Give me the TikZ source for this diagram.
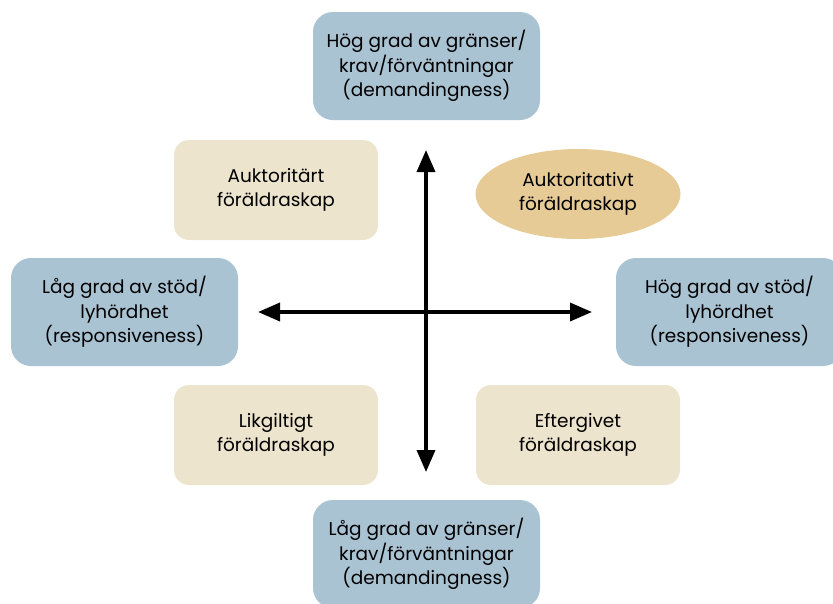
\documentclass[tikz,border=0pt]{standalone}
\usepackage{fontspec}
\setmainfont{Poppins}
\usepackage{xcolor}
\usetikzlibrary{shapes.geometric, arrows.meta, positioning}
\definecolor{axisblue}{HTML}{A9C3D3}
\definecolor{stylebeige}{HTML}{ECE4CC}
\definecolor{stylegold}{HTML}{E6CB96}

\begin{document}
\begin{tikzpicture}[x=1pt, y=-1pt,
            axisbox/.style={rectangle, rounded corners=20pt, fill=axisblue, minimum width=227pt, minimum height=108pt, align=center, font=\fontsize{18.5}{24.5}\selectfont},
            stylebox/.style={rectangle, rounded corners=15pt, fill=stylebeige, minimum width=204pt, minimum height=100pt, align=center, font=\fontsize{18.5}{24.5}\selectfont},
            arrow/.style={{Triangle[length=22pt, width=18pt]}-{Triangle[length=22pt, width=18pt]}, line width=3.5pt}
        ]
            \useasboundingbox (0,0) rectangle (833,603);
            \clip (0,0) rectangle (833,603);

% Axis ends
            \node[axisbox] (demhigh) at (426.5,66) {Hög grad av gränser/\\krav/förväntningar\\(demandingness)};
            \node[axisbox] (demlow) at (426.5,554) {Låg grad av gränser/\\krav/förväntningar\\(demandingness)};
            \node[axisbox] (resplow) at (124.5,312) {Låg grad av stöd/\\lyhördhet\\(responsiveness)};
            \node[axisbox] (resphigh) at (729.5,312) {Hög grad av stöd/\\lyhördhet\\(responsiveness)};

% Parenting styles
            \node[stylebox] (auth) at (276,190) {Auktoritärt\\föräldraskap};
            \node[ellipse, fill=stylegold, minimum width=205pt, minimum height=90pt, align=center, font=\fontsize{18.5}{24.5}\selectfont] (authv) at (578,194) {Auktoritativt\\föräldraskap};
            \node[stylebox] (negl) at (276,435) {Likgiltigt\\föräldraskap};
            \node[stylebox] (perm) at (578,435) {Eftergivet\\föräldraskap};

% Axes
            \coordinate (top) at (426,150);
            \coordinate (bottom) at (426,472);
            \coordinate (left) at (258,312);
            \coordinate (right) at (592,312);
            \draw[arrow] (bottom) -- (top);
            \draw[arrow] (left) -- (right);

        \end{tikzpicture}
\end{document}
